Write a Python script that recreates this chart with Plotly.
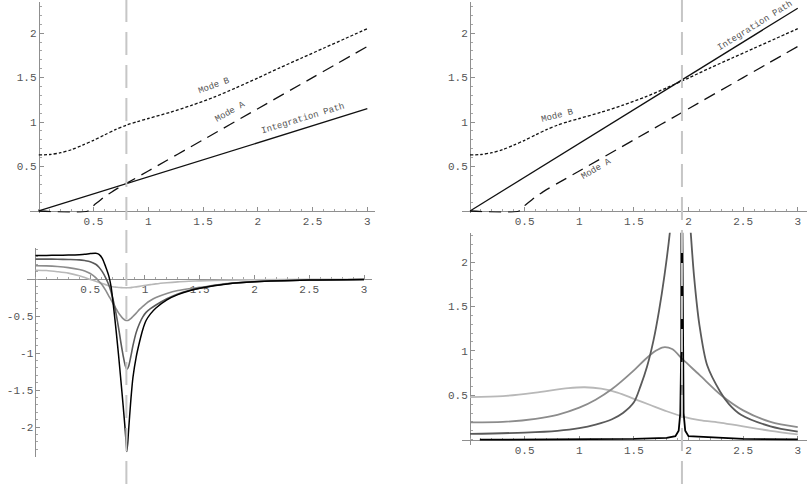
import plotly.graph_objects as go

# ---------------- data ----------------
# Top panels: dispersion curves
x_path = [0, 3]
y_path_left = [0, 1.15]
y_path_right = [0, 2.28]

x_mode_a = [0, 0.45, 0.5, 0.55, 0.6, 0.65, 0.7, 0.8, 1.0, 1.5, 2.0, 2.5, 3.0]
y_mode_a = [0, 0, 0.06, 0.11, 0.16, 0.20, 0.24, 0.31, 0.45, 0.80, 1.15, 1.50, 1.85]

x_mode_b = [0, 0.1, 0.2, 0.3, 0.4, 0.5, 0.6, 0.7, 0.8, 0.9, 1.0, 1.2, 1.4, 1.6,
            1.8, 2.0, 2.2, 2.4, 2.6, 2.8, 3.0]
y_mode_b = [0.63, 0.635, 0.655, 0.69, 0.74, 0.795, 0.855, 0.915, 0.965, 1.005, 1.04,
            1.11, 1.19, 1.28, 1.385, 1.495, 1.61, 1.72, 1.83, 1.94, 2.05]

res_left = 0.80     # crossing of integration path with Mode A
res_right = 1.94    # crossing of integration path with Mode B

# Bottom-left panel: four response curves
x_bl = [0, 0.1, 0.2, 0.3, 0.4, 0.45, 0.5, 0.55, 0.58, 0.61, 0.64, 0.67, 0.69, 0.72,
        0.74, 0.76, 0.78, 0.8, 0.82, 0.835, 0.85, 0.87, 0.89, 0.92, 0.95, 0.98, 1.01,
        1.05, 1.1, 1.2, 1.3, 1.4, 1.5, 1.75, 2.0, 2.5, 3.0]
bl_black = [0.32, 0.32, 0.322, 0.325, 0.33, 0.335, 0.345, 0.35, 0.335, 0.28, 0.17,
            0.04, -0.1, -0.47, -0.75, -1.05, -1.37, -1.7, -2.05, -2.33, -2.05, -1.65,
            -1.33, -1.05, -0.85, -0.68, -0.56, -0.47, -0.39, -0.28, -0.21, -0.16,
            -0.125, -0.065, -0.037, -0.013, -0.005]
bl_dark = [0.27, 0.27, 0.268, 0.265, 0.26, 0.25, 0.235, 0.2, 0.16, 0.1, 0.02, -0.08,
           -0.17, -0.35, -0.5, -0.67, -0.86, -1.03, -1.17, -1.22, -1.18, -1.05, -0.9,
           -0.72, -0.6, -0.51, -0.45, -0.4, -0.35, -0.265, -0.2, -0.155, -0.122,
           -0.064, -0.036, -0.013, -0.005]
bl_medium = [0.18, 0.178, 0.17, 0.155, 0.13, 0.11, 0.075, 0.02, -0.03, -0.08, -0.15,
             -0.23, -0.28, -0.36, -0.41, -0.46, -0.5, -0.535, -0.555, -0.56, -0.555,
             -0.535, -0.505, -0.46, -0.41, -0.37, -0.33, -0.29, -0.25, -0.195, -0.155,
             -0.13, -0.112, -0.062, -0.035, -0.013, -0.005]
bl_light = [0.12, 0.115, 0.1, 0.08, 0.045, 0.02, -0.005, -0.03, -0.045, -0.06, -0.075,
            -0.09, -0.1, -0.107, -0.11, -0.113, -0.115, -0.117, -0.118, -0.118, -0.117,
            -0.115, -0.11, -0.105, -0.098, -0.09, -0.083, -0.075, -0.065, -0.05,
            -0.038, -0.03, -0.024, -0.014, -0.009, -0.004, -0.002]

# Bottom-right panel: four response curves
x_br_light = [0, 0.3, 0.6, 0.9, 1.05, 1.2, 1.35, 1.5, 1.65, 1.8, 1.95, 2.1, 2.3, 2.5, 2.75, 3.0]
br_light = [0.48, 0.49, 0.53, 0.58, 0.59, 0.575, 0.53, 0.46, 0.39, 0.32, 0.26, 0.22,
            0.19, 0.15, 0.10, 0.06]
x_br_medium = [0, 0.3, 0.6, 0.8, 1.0, 1.15, 1.3, 1.5, 1.6, 1.7, 1.77, 1.85, 1.95, 2.1,
               2.3, 2.5, 2.75, 3.0]
br_medium = [0.195, 0.2, 0.235, 0.28, 0.36, 0.45, 0.57, 0.78, 0.9, 1.0, 1.04, 1.02,
             0.9, 0.73, 0.5, 0.33, 0.2, 0.14]
x_br_dark = [0, 0.5, 0.8, 1.0, 1.15, 1.3, 1.4, 1.5, 1.56, 1.62, 1.68, 1.73, 1.78, 1.83,
             1.87, 1.9, 1.96, 1.99, 2.02, 2.05, 2.1, 2.17, 2.29, 2.37, 2.48, 2.75, 3.0]
br_dark = [0.065, 0.08, 0.1, 0.13, 0.17, 0.23, 0.3, 0.42, 0.6, 0.82, 1.12, 1.45, 1.85,
           2.34, 2.9, 3.5, 3.5, 2.9, 2.34, 1.85, 1.29, 0.84, 0.54, 0.4, 0.28, 0.15, 0.09]
x_br_black = [0.09, 0.5, 1.0, 1.5, 1.8, 1.88, 1.91, 1.925, 1.933, 1.937, 1.94, 1.943,
              1.947, 1.955, 1.97, 2.0, 2.5, 3.0]
br_black = [0, 0.002, 0.004, 0.008, 0.02, 0.04, 0.1, 0.3, 1.0, 2.5, 6.0, 2.5, 1.0, 0.3,
            0.1, 0.04, 0.008, 0.004]

x_ticks = [0.5, 1, 1.5, 2, 2.5, 3]
x_ticktext = ["0.5", "1", "1.5", "2", "2.5", "3"]
y_ticks_top = [0.5, 1, 1.5, 2]
y_ticktext_top = ["0.5", "1", "1.5", "2"]
y_ticks_bl = [-0.5, -1, -1.5, -2]
y_ticktext_bl = ["-0.5", "-1", "-1.5", "-2"]
y_ticks_br = [0.5, 1, 1.5, 2]
y_ticktext_br = ["0.5", "1", "1.5", "2"]

# ---------------- layout geometry ----------------
W, H = 807, 486


def xd(a, b):
    return [a / W, b / W]


def yd(top, bottom):
    return [1 - bottom / H, 1 - top / H]


panels = {
    "": dict(xdom=xd(30, 375), xr=[-0.08, 3.07], ydom=yd(2, 212.5), yr=[-0.017, 2.35],
             yt=(y_ticks_top, y_ticktext_top)),
    "2": dict(xdom=xd(461.7, 806.5), xr=[-0.076, 3.08], ydom=yd(2, 212.5), yr=[-0.017, 2.35],
              yt=(y_ticks_top, y_ticktext_top)),
    "3": dict(xdom=xd(26.7, 371.7), xr=[-0.08, 3.07], ydom=yd(248, 456.7), yr=[-2.40, 0.42],
              yt=(y_ticks_bl, y_ticktext_bl)),
    "4": dict(xdom=xd(461.7, 806.5), xr=[-0.076, 3.08], ydom=yd(232.7, 445), yr=[-0.06, 2.33],
              yt=(y_ticks_br, y_ticktext_br)),
}

AX_COL = "#8f8f8f"
TICKFONT = dict(family="Liberation Mono, Courier New, monospace", size=11, color="#555555")


def axis_style():
    return dict(showgrid=False, zeroline=False, showline=True, linecolor=AX_COL, linewidth=1,
                ticks="inside", ticklen=4, tickcolor=AX_COL, tickwidth=1,
                minor=dict(ticks="inside", ticklen=2, tickcolor="#a5a5a5", tickwidth=1,
                           tick0=0, dtick=0.1, showgrid=False),
                tickfont=TICKFONT, fixedrange=True, automargin=False, layer="below traces")


fig = go.Figure()

layout_axes = {}
for k, p in panels.items():
    xdom, xr, ydom, yr = p["xdom"], p["xr"], p["ydom"], p["yr"]
    ypos = xdom[0] + (0 - xr[0]) / (xr[1] - xr[0]) * (xdom[1] - xdom[0])
    xpos = ydom[0] + (0 - yr[0]) / (yr[1] - yr[0]) * (ydom[1] - ydom[0])
    xa = axis_style()
    xa.update(domain=xdom, range=xr, tickmode="array", tickvals=x_ticks, ticktext=x_ticktext,
              anchor="free", position=xpos, side="bottom")
    ya = axis_style()
    ya.update(domain=ydom, range=yr, tickmode="array", tickvals=p["yt"][0],
              ticktext=p["yt"][1], anchor="free", position=ypos, side="left")
    layout_axes["xaxis" + k] = xa
    layout_axes["yaxis" + k] = ya


def line(x, y, xa, ya, color, width=1.4, dash="solid", shape="spline"):
    fig.add_trace(go.Scatter(x=x, y=y, mode="lines", xaxis=xa, yaxis=ya, hoverinfo="skip",
                             line=dict(color=color, width=width, dash=dash, shape=shape,
                                       smoothing=0.8)))


MODE_A_DASH = "12px,7px"
MODE_B_DASH = "3px,2px"

# Top-left
line(x_path, y_path_left, "x", "y", "#111111", 1.3, shape="linear")
line(x_mode_a, y_mode_a, "x", "y", "#111111", 1.3, MODE_A_DASH)
line(x_mode_b, y_mode_b, "x", "y", "#111111", 1.3, MODE_B_DASH)
# Top-right
line(x_path, y_path_right, "x2", "y2", "#111111", 1.3, shape="linear")
line(x_mode_a, y_mode_a, "x2", "y2", "#111111", 1.3, MODE_A_DASH)
line(x_mode_b, y_mode_b, "x2", "y2", "#111111", 1.3, MODE_B_DASH)

C_LIGHT, C_MED, C_DARK, C_BLACK = "#b8b8b8", "#8c8c8c", "#5a5a5a", "#000000"
# Bottom-left
line(x_bl, bl_light, "x3", "y3", C_LIGHT, 1.6)
line(x_bl, bl_medium, "x3", "y3", C_MED, 1.6)
line(x_bl, bl_dark, "x3", "y3", C_DARK, 1.6)
line(x_bl, bl_black, "x3", "y3", C_BLACK, 1.5)
# Bottom-right
line(x_br_light, br_light, "x4", "y4", C_LIGHT, 1.8)
line(x_br_medium, br_medium, "x4", "y4", C_MED, 1.8)
line(x_br_dark, br_dark, "x4", "y4", C_DARK, 1.8)
line(x_br_black, br_black, "x4", "y4", C_BLACK, 1.8, shape="linear")

LABEL_FONT = dict(family="Liberation Mono, Courier New, monospace", size=9, color="#555555")
labels = [
    ("Mode B", 1.60, 1.40, -20, "x", "y"),
    ("Mode A", 1.75, 1.11, -30, "x", "y"),
    ("Integration Path", 2.41, 1.03, -17, "x", "y"),
    ("Integration Path", 2.61, 2.08, -32, "x2", "y2"),
    ("Mode B", 0.80, 1.07, -14, "x2", "y2"),
    ("Mode A", 1.16, 0.47, -31, "x2", "y2"),
]
annotations = [dict(text=t, x=x, y=y, xref=xr_, yref=yr_, textangle=a, showarrow=False,
                    font=LABEL_FONT) for t, x, y, a, xr_, yr_ in labels]

shapes = [
    dict(type="line", xref="x", yref="paper", x0=res_left, x1=res_left, y0=1 + 1 / H, y1=0,
         line=dict(color="#c6c6c6", width=2, dash="23px,10px"), layer="above"),
    dict(type="line", xref="x2", yref="paper", x0=res_right, x1=res_right, y0=1 + 1 / H, y1=0,
         line=dict(color="#c6c6c6", width=2, dash="23px,10px"), layer="above"),
]

fig.update_layout(width=W, height=H, margin=dict(l=0, r=0, t=0, b=0),
                  paper_bgcolor="white", plot_bgcolor="white", showlegend=False,
                  annotations=annotations, shapes=shapes, **layout_axes)

fig.write_html("out.html", config={"displayModeBar": False},
               post_script="document.body.style.margin='0';")
